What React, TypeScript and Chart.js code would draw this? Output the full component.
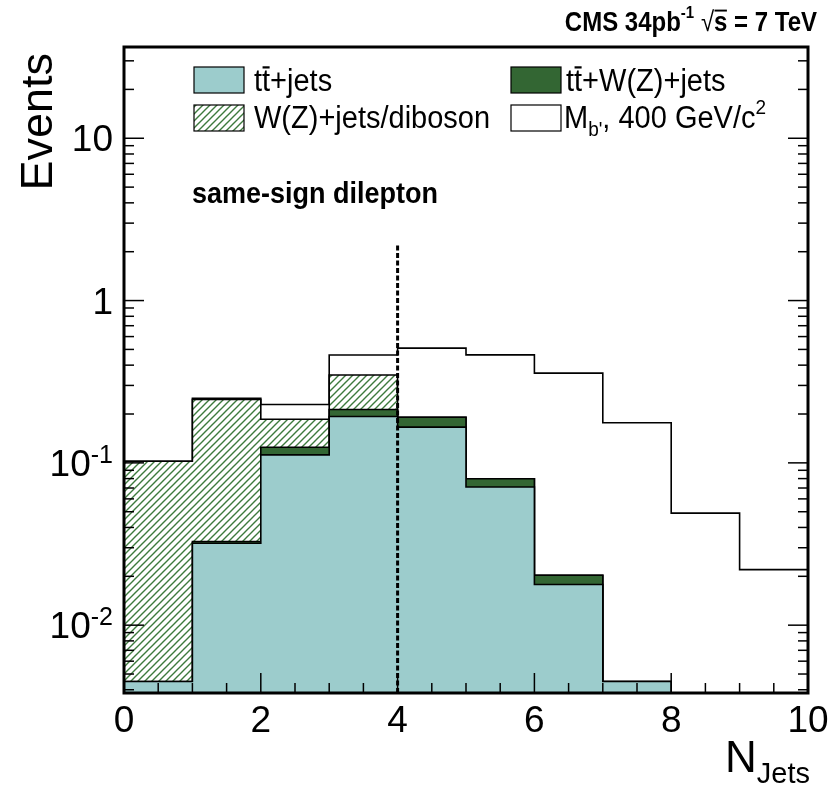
import React, { useEffect, useRef } from 'react';
import { Chart, registerables } from 'chart.js';
Chart.register(...registerables);

// ---- data ----
const binLowEdges = [0, 1, 2, 3, 4, 5, 6, 7, 8, 9];
const xUpperEdge = 10;
const ttJets = [0.0045, 0.032, 0.112, 0.193, 0.166, 0.071, 0.0178, 0.0045, 0, 0];
const ttWZJets = [0, 0.0008, 0.0127, 0.02, 0.025, 0.0089, 0.0025, 0, 0, 0];
const wzJetsDiboson = [0.0978, 0.213, 0.061, 0.135, 0, 0, 0, 0, 0, 0];
const signalMb400 = [0, 0.004, 0.043, 0.114, 0.318, 0.383, 0.337, 0.172, 0.049, 0.022];
const xTickLabels = [0, 2, 4, 6, 8, 10];
const yTickExponents = [-2, -1, 0, 1];
const cutNJets = 4;
const cutLineTop = 2.2;
const yMin = 0.00382;
const yMax = 36.5;
const FLOOR = 1e-5;

const FONT = "'Liberation Sans', Arial, Helvetica, sans-serif";

function cumulative(...arrs: number[][]): number[] {
  return arrs[0].map((_, i) => arrs.reduce((s, a) => s + a[i], 0));
}
function stepPoints(vals: number[]) {
  const pts = vals.map((v, i) => ({ x: binLowEdges[i], y: v > 0 ? v : FLOOR }));
  pts.push({ x: xUpperEdge, y: pts[pts.length - 1].y });
  return pts;
}

type Part = { t: string; size: number; dy?: number; bold?: boolean; over?: boolean };
function drawParts(ctx: CanvasRenderingContext2D, parts: Part[], x: number, y: number, align: 'left' | 'right' | 'center', sy = 1) {
  ctx.save();
  ctx.translate(x, y);
  ctx.scale(1, sy);
  const f = (p: Part) => `${p.bold ? 'bold ' : ''}${p.size}px ${FONT}`;
  let w = 0;
  for (const p of parts) { ctx.font = f(p); w += ctx.measureText(p.t).width; }
  let cx = align === 'left' ? 0 : align === 'right' ? -w : -w / 2;
  ctx.textAlign = 'left';
  ctx.textBaseline = 'alphabetic';
  ctx.fillStyle = '#000';
  for (const p of parts) {
    ctx.font = f(p);
    const mw = ctx.measureText(p.t).width;
    ctx.fillText(p.t, cx, p.dy || 0);
    if (p.over) {
      ctx.strokeStyle = '#000';
      ctx.lineWidth = Math.max(1, p.size * 0.07);
      const oy = (p.dy || 0) - p.size * 0.74;
      ctx.beginPath(); ctx.moveTo(cx + 0.5, oy); ctx.lineTo(cx + mw - 0.5, oy); ctx.stroke();
    }
    cx += mw;
  }
  ctx.restore();
}

function makeHatch(ctx: CanvasRenderingContext2D) {
  const s = 7;
  const pc = document.createElement('canvas');
  pc.width = s; pc.height = s;
  const p = pc.getContext('2d')!;
  p.fillStyle = '#ffffff';
  p.fillRect(0, 0, s, s);
  p.strokeStyle = '#3d7a3d';
  p.lineWidth = 1.4;
  p.beginPath();
  p.moveTo(-1, s + 1); p.lineTo(s + 1, -1);
  p.moveTo(-3, 3); p.lineTo(3, -3);
  p.moveTo(s - 3, s + 3); p.lineTo(s + 3, s - 3);
  p.stroke();
  return ctx.createPattern(pc, 'repeat')!;
}

export default function App() {
  const ref = useRef<HTMLCanvasElement>(null);
  useEffect(() => {
    document.body.style.margin = '0';
    const canvas = ref.current!;
    const ctx = canvas.getContext('2d')!;
    const hatch = makeHatch(ctx);
    const c1 = cumulative(ttJets);
    const c2 = cumulative(ttJets, ttWZJets);
    const c3 = cumulative(ttJets, ttWZJets, wzJetsDiboson);
    const c4 = cumulative(ttJets, ttWZJets, wzJetsDiboson, signalMb400);

    const decor = {
      id: 'decor',
      afterDatasetsDraw(chart: any) {
        const { ctx: g, chartArea: a, scales } = chart;
        const x = scales.x, y = scales.y;
        g.save();
        g.strokeStyle = '#000';
        g.lineWidth = 1.5;
        const line = (x1: number, y1: number, x2: number, y2: number) => {
          g.beginPath(); g.moveTo(x1, y1); g.lineTo(x2, y2); g.stroke();
        };
        for (let e = -3; e <= 1; e++) {
          for (let k = 1; k <= 9; k++) {
            const v = k * Math.pow(10, e);
            if (v < y.min || v > y.max) continue;
            const py = y.getPixelForValue(v);
            const len = k === 1 ? 20 : 10;
            line(a.left, py, a.left + len, py);
            line(a.right, py, a.right - len, py);
          }
        }
        for (let i = 0; i <= 20; i++) {
          const v = i * 0.5;
          const px = x.getPixelForValue(v);
          const len = v % 2 === 0 ? 20 : 10;
          line(px, a.bottom, px, a.bottom - len);
        }
        g.lineWidth = 3;
        g.strokeRect(a.left, a.top, a.right - a.left, a.bottom - a.top);

        for (const e of yTickExponents) {
          const py = y.getPixelForValue(Math.pow(10, e));
          if (e === 0) drawParts(g, [{ t: '1', size: 37 }], 113, py + 13, 'right');
          else if (e === 1) drawParts(g, [{ t: '10', size: 37 }], 113, py + 13, 'right');
          else drawParts(g, [{ t: '10', size: 37 }, { t: String(e), size: 25, dy: -13 }], 113, py + 13, 'right');
        }
        for (const v of xTickLabels) {
          drawParts(g, [{ t: String(v), size: 37 }], x.getPixelForValue(v), 732, 'center');
        }
        g.save();
        g.translate(52, 53);
        g.rotate(-Math.PI / 2);
        g.font = `45px ${FONT}`;
        g.textAlign = 'right';
        g.textBaseline = 'alphabetic';
        g.fillStyle = '#000';
        g.fillText('Events', 0, 0);
        g.restore();
        drawParts(g, [{ t: 'N', size: 44 }, { t: 'Jets', size: 29, dy: 11 }], 810, 772, 'right');

        drawParts(g, [
          { t: 'CMS 34pb', size: 24, bold: true },
          { t: '-1', size: 15, bold: true, dy: -11 },
          { t: ' \u221A', size: 24, bold: false },
          { t: 's', size: 24, bold: true, over: true },
          { t: ' = 7 TeV', size: 24, bold: true },
        ], 817, 31, 'right', 1.15);

        drawParts(g, [{ t: 'same-sign dilepton', size: 27, bold: true }], 192, 203, 'left', 1.12);

        const box = (bx: number, by: number, fill: any) => {
          g.fillStyle = fill;
          g.fillRect(bx, by, 50, 26);
          g.lineWidth = 1.2;
          g.strokeStyle = '#000';
          g.strokeRect(bx, by, 50, 26);
        };
        box(194, 67, '#9ccccc');
        box(511, 67, '#336633');
        box(194, 105, hatch);
        box(511, 105, '#ffffff');
        const ls = 29;
        drawParts(g, [{ t: 't', size: ls }, { t: 't', size: ls, over: true }, { t: '+jets', size: ls }], 254, 91, 'left', 1.1);
        drawParts(g, [{ t: 't', size: ls }, { t: 't', size: ls, over: true }, { t: '+W(Z)+jets', size: ls }], 566, 91, 'left', 1.1);
        drawParts(g, [{ t: 'W(Z)+jets/diboson', size: ls }], 254, 128, 'left', 1.1);
        drawParts(g, [
          { t: 'M', size: ls },
          { t: "b'", size: 19, dy: 7 },
          { t: ', 400 GeV/c', size: ls },
          { t: '2', size: 19, dy: -13 },
        ], 564, 128, 'left', 1.1);
        g.restore();
      },
    };

    const base = { stepped: 'before' as const, pointRadius: 0, borderColor: '#000', borderWidth: 1.6, tension: 0 };
    const chart = new Chart(ctx, {
      type: 'line',
      data: {
        datasets: [
          { label: 'cut', data: [{ x: cutNJets, y: yMin }, { x: cutNJets, y: cutLineTop }], borderColor: '#000', borderWidth: 3, borderDash: [5, 2.5], pointRadius: 0, fill: false } as any,
          { label: 'tt+jets', data: stepPoints(c1), backgroundColor: '#9ccccc', fill: 'start', ...base } as any,
          { label: 'tt+W(Z)+jets', data: stepPoints(c2), backgroundColor: '#336633', fill: 'start', ...base } as any,
          { label: 'W(Z)+jets/diboson', data: stepPoints(c3), backgroundColor: hatch, fill: 'start', ...base } as any,
          { label: "M_b', 400 GeV/c^2", data: stepPoints(c4), backgroundColor: '#ffffff', fill: 'start', ...base } as any,
        ],
      },
      options: {
        animation: false,
        responsive: false,
        devicePixelRatio: 1,
        layout: { padding: { left: 124, top: 47, right: 26, bottom: 92 } },
        plugins: { legend: { display: false }, tooltip: { enabled: false } },
        scales: {
          x: { type: 'linear', display: false, min: 0, max: 10 },
          y: { type: 'logarithmic', display: false, min: yMin, max: yMax },
        },
      },
      plugins: [decor],
    });
    return () => chart.destroy();
  }, []);
  return (
    <div style={{ position: 'absolute', left: 0, top: 0, width: 834, height: 785, background: '#fff' }}>
      <canvas ref={ref} width={834} height={785} style={{ display: 'block', width: 834, height: 785 }} />
    </div>
  );
}
